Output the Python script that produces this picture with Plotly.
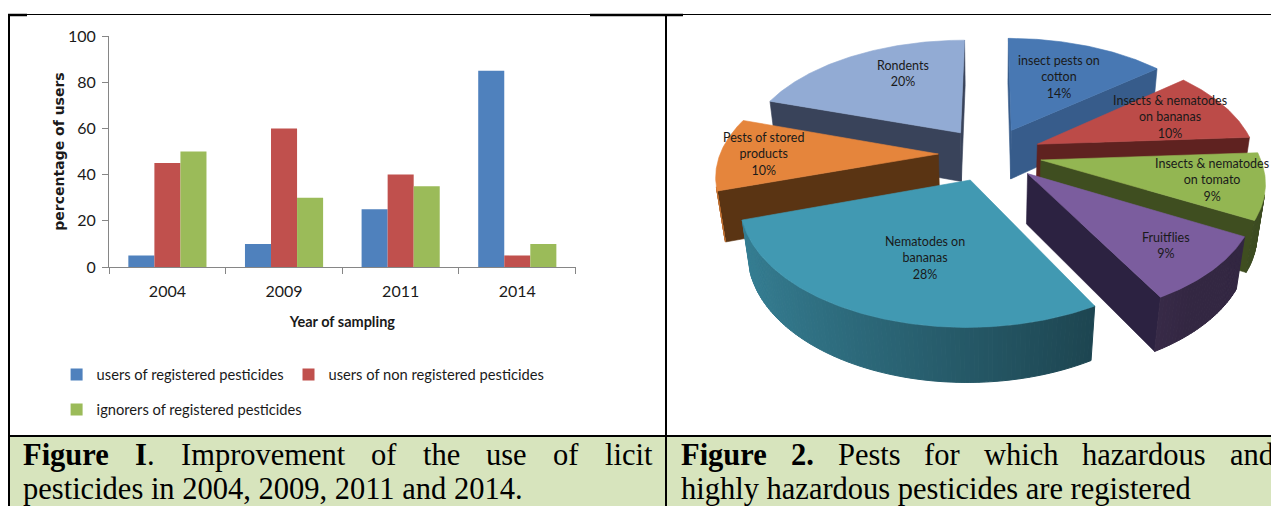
import numpy as np
import plotly.graph_objects as go

# ---------------- data ----------------
years = ["2004", "2009", "2011", "2014"]
registered_users = [5, 10, 25, 85]
non_registered_users = [45, 60, 40, 5]
ignorers_registered = [50, 30, 35, 10]
bar_series = ["users of registered pesticides",
              "users of non registered pesticides",
              "ignorers of registered pesticides"]
y_ticks = [0, 20, 40, 60, 80, 100]

pest_labels = ["insect pests on<br>cotton", "Insects & nematodes<br>on bananas",
               "Insects & nematodes<br>on tomato", "Fruitflies", "Nematodes on<br>bananas",
               "Pests of stored<br>products", "Rondents"]
pest_shares = [14, 10, 9, 9, 28, 10, 20]

caption_left_1 = ["<b>Figure</b>", "<b>I</b>.", "Improvement", "of", "the", "use", "of", "licit"]
caption_left_2 = "pesticides in 2004, 2009, 2011 and 2014."
caption_right_1 = ["<b>Figure</b>", "<b>2.</b>", "Pests", "for", "which", "hazardous", "and"]
caption_right_2 = "highly hazardous pesticides are registered"

# ---------------- page geometry (browser body margin = 8px) ----------------
W, HGT = 1279, 506
OFF = 8
FW, FH = W - OFF, HGT - OFF


def px_x(x):
    return (x - OFF) / FW


def px_y(y):
    return (HGT - y) / FH


# ---------------- styles ----------------
SANS = "Lato, Carlito, Calibri, sans-serif"
SERIF = "Liberation Serif, Times New Roman, serif"
BAR_COLORS = ["#4F81BD", "#C0504D", "#9BBB59"]
TOP_COLORS = ["#4878b3", "#bc4b48", "#93b652", "#7b5d9e", "#4199b2", "#e5853c", "#92abd4"]
SIDE_COLORS = ["#375c8b", "#5f2220", "#3f4e20", "#2c2241", "#1f4e5c", "#5a3413", "#39435a"]
LABEL_R = [0.6, 0.7, 0.77, 0.77, 0.6, 0.8, 0.68]
LABEL_DA = [0, 0, 0, 0, -5, 0, 9]

fig = go.Figure()

# ---------------- bar chart ----------------
for name, vals, col, lg in zip(bar_series,
                               [registered_users, non_registered_users, ignorers_registered],
                               BAR_COLORS, ["legend", "legend", "legend2"]):
    fig.add_trace(go.Bar(x=years, y=vals, name=name, marker=dict(color=col, line=dict(width=0)),
                         legend=lg, xaxis="x", yaxis="y", hoverinfo="skip"))

# ---------------- 3-D exploded pie (perspective projection) ----------------
PHI = np.radians(34)
DIST = 1.0
R = 0.19
H = 0.052
EXPL = 0.045
F = 1115.0
CX, CY_TOP = 990.0, 154.0
cosP, sinP = np.cos(PHI), np.sin(PHI)
CY0 = CY_TOP + F * H * cosP / (DIST - H * sinP)
CAM = np.array([0.0, -DIST * cosP, DIST * sinP])


def proj(X, Y, Z):
    X = np.asarray(X, float); Y = np.asarray(Y, float); Z = np.asarray(Z, float)
    depth = DIST + Y * cosP - Z * sinP
    up = Y * sinP + Z * cosP
    return CX + F * X / depth, CY0 - F * up / depth


def facing(n, p):
    return float(np.dot(n, CAM - p)) > 0


def hex2rgb(h):
    h = h.lstrip("#")
    return np.array([int(h[i:i + 2], 16) for i in (0, 2, 4)], float)


def shade(h, k):
    c = np.clip(hex2rgb(h) * k, 0, 255).astype(int)
    return "rgb(%d,%d,%d)" % tuple(c)


def poly(xs, ys, color, lw=0.6):
    xs = list(xs) + [xs[0]]
    ys = list(ys) + [ys[0]]
    fig.add_trace(go.Scatter(x=xs, y=ys, fill="toself", fillcolor=color, mode="lines",
                             line=dict(color=color, width=lw), hoverinfo="skip",
                             showlegend=False, xaxis="x2", yaxis="y2"))


total = float(sum(pest_shares))
bounds = np.concatenate([[0], np.cumsum(pest_shares)]) / total * 2 * np.pi
slices = []
for i in range(len(pest_shares)):
    a, b = bounds[i], bounds[i + 1]
    m = (a + b) / 2
    slices.append((i, a, b, m, EXPL * np.sin(m), EXPL * np.cos(m)))

pie_annotations = []
for (i, a, b, m, ox, oy) in sorted(slices, key=lambda s: -s[5]):
    # radial faces
    for ang, n in ((a, np.array([-np.cos(a), np.sin(a), 0])), (b, np.array([np.cos(b), -np.sin(b), 0]))):
        p = np.array([ox + 0.5 * R * np.sin(ang), oy + 0.5 * R * np.cos(ang), H / 2])
        if facing(n, p):
            X = [ox, ox + R * np.sin(ang), ox + R * np.sin(ang), ox]
            Y = [oy, oy + R * np.cos(ang), oy + R * np.cos(ang), oy]
            Z = [H, H, 0, 0]
            px, py = proj(X, Y, Z)
            poly(px, py, SIDE_COLORS[i])
    # outer wall, shaded by facing direction (one strip per degree)
    nseg = max(int(np.degrees(b - a)), 2)
    th = np.linspace(a, b, nseg + 1)
    for j in range(nseg):
        t = (th[j] + th[j + 1]) / 2
        n = np.array([np.sin(t), np.cos(t), 0])
        p = np.array([ox + R * np.sin(t), oy + R * np.cos(t), H / 2])
        if not facing(n, p):
            continue
        tt = th[j:j + 2]
        kk = float(np.clip(0.58 + 0.26 * (-np.sin(t)), 0.42, 0.85))
        xt, yt = proj(ox + R * np.sin(tt), oy + R * np.cos(tt), np.full(2, H))
        xb, yb = proj(ox + R * np.sin(tt), oy + R * np.cos(tt), np.zeros(2))
        poly(list(xt) + list(xb[::-1]), list(yt) + list(yb[::-1]), shade(TOP_COLORS[i], kk), lw=1)
    # top face
    tt = np.linspace(a, b, nseg * 2 + 1)
    X = np.concatenate([[ox], ox + R * np.sin(tt)])
    Y = np.concatenate([[oy], oy + R * np.cos(tt)])
    px, py = proj(X, Y, np.full(len(X), H))
    poly(px, py, TOP_COLORS[i])
    # label
    ml = m + np.radians(LABEL_DA[i])
    lx, ly = proj(ox + LABEL_R[i] * R * np.sin(ml), oy + LABEL_R[i] * R * np.cos(ml), H)
    pie_annotations.append(dict(x=float(lx), y=float(ly), xref="x2", yref="y2",
                                text="%s<br>%d%%" % (pest_labels[i], pest_shares[i]),
                                showarrow=False, align="center",
                                font=dict(family=SANS, size=12.5, color="#1a1a1a")))

# ---------------- captions (justified first lines) ----------------
SERIF_REG = {"I": 333, "m": 778, "p": 500, "r": 333, "o": 500, "v": 500, "e": 444, "n": 500,
             "t": 278, "f": 333, "h": 500, "u": 500, "s": 389, "l": 278, "i": 278, "c": 444,
             "P": 556, "w": 722, "a": 444, "z": 444, "d": 500, ".": 250}
SERIF_BOLD = {"F": 611, "i": 278, "g": 500, "u": 556, "r": 444, "e": 444, "I": 389, "2": 500, ".": 250}
CAP_SIZE = 30.5


def word_width(word, size):
    w, bold, i = 0.0, False, 0
    while i < len(word):
        if word.startswith("<b>", i):
            bold, i = True, i + 3
            continue
        if word.startswith("</b>", i):
            bold, i = False, i + 4
            continue
        w += (SERIF_BOLD if bold else SERIF_REG).get(word[i], 500)
        i += 1
    return w * size / 1000.0


def justify(words, xl, xr, size):
    ws = [word_width(w, size) for w in words]
    gap = (xr - xl - sum(ws)) / (len(words) - 1)
    xs, x = [], xl
    for w in ws:
        xs.append(x)
        x += w + gap
    return xs


CAP_Y1, CAP_Y2 = 454.8, 488.8
cap_annotations = []
for words, xl, xr in ((caption_left_1, 22, 651), (caption_right_1, 680, 1272.7)):
    for w, x in zip(words, justify(words, xl, xr, CAP_SIZE)):
        cap_annotations.append(dict(x=x, y=CAP_Y1, xref="x2", yref="y2", text=w, showarrow=False,
                                    xanchor="left", yanchor="middle", borderpad=0,
                                    font=dict(family=SERIF, size=CAP_SIZE, color="#000")))
for txt, xl in ((caption_left_2, 22), (caption_right_2, 680)):
    cap_annotations.append(dict(x=xl, y=CAP_Y2, xref="x2", yref="y2", text=txt, showarrow=False,
                                xanchor="left", yanchor="middle", borderpad=0,
                                font=dict(family=SERIF, size=CAP_SIZE, color="#000")))

# ---------------- frame shapes ----------------
shapes = [
    dict(type="rect", x0=9, x1=W, y0=437, y1=HGT, fillcolor="#d7e4bd", line=dict(width=0), layer="below"),
    dict(type="line", x0=0, x1=W, y0=14.5, y1=14.5, line=dict(color="#000", width=1)),
    dict(type="line", x0=8, x1=27, y0=15, y1=15, line=dict(color="#000", width=2.5)),
    dict(type="line", x0=590, x1=683, y0=15, y1=15, line=dict(color="#000", width=2.5)),
    dict(type="line", x0=9, x1=9, y0=14, y1=HGT, line=dict(color="#000", width=2)),
    dict(type="line", x0=666, x1=666, y0=14, y1=HGT, line=dict(color="#000", width=2)),
    dict(type="line", x0=8, x1=W, y0=436, y1=436, line=dict(color="#000", width=2)),
]
for s in shapes:
    s.update(xref="x2", yref="y2")

AX_COL = "#868686"
TXT_COL = "#1a1a1a"
fig.update_layout(
    width=FW, height=FH, margin=dict(l=0, r=0, t=0, b=0, autoexpand=False),
    paper_bgcolor="white", plot_bgcolor="rgba(0,0,0,0)",
    barmode="group", bargap=0.33, bargroupgap=0,
    xaxis=dict(domain=[px_x(109.1), px_x(575.6)], anchor="y", type="category", automargin=False,
               categoryorder="array", categoryarray=years,
               showline=True, linecolor=AX_COL, linewidth=1, ticks="outside", tickson="boundaries",
               ticklen=6, tickcolor=AX_COL, showgrid=False, zeroline=False,
               tickfont=dict(family=SANS, size=16, color=TXT_COL), ticklabelstandoff=10,
               title=dict(text="Year of sampling", standoff=17,
                          font=dict(family=SANS, size=14.5, color=TXT_COL, weight="bold"))),
    yaxis=dict(domain=[px_y(267), px_y(36)], anchor="x", range=[0, 100], automargin=False,
               tickvals=y_ticks, showline=True, linecolor=AX_COL, linewidth=1, ticks="outside",
               ticklen=6, tickcolor=AX_COL, showgrid=False, zeroline=False,
               tickfont=dict(family=SANS, size=16, color=TXT_COL), ticklabelstandoff=3,
               title=dict(text="percentage of users", standoff=0,
                          font=dict(family="DejaVu Sans", size=14, color=TXT_COL, weight="bold"))),
    xaxis2=dict(domain=[0, 1], range=[OFF, W], visible=False, anchor="y2", fixedrange=True,
                automargin=False),
    yaxis2=dict(domain=[0, 1], range=[HGT, OFF], visible=False, anchor="x2", fixedrange=True,
                automargin=False),
    legend=dict(orientation="h", x=px_x(56.6), xanchor="left", y=px_y(375), yanchor="middle",
                font=dict(family=SANS, size=14.7, color=TXT_COL), bgcolor="rgba(0,0,0,0)",
                borderwidth=0),
    legend2=dict(orientation="h", x=px_x(56.6), xanchor="left", y=px_y(410), yanchor="middle",
                 font=dict(family=SANS, size=14.7, color=TXT_COL), bgcolor="rgba(0,0,0,0)",
                 borderwidth=0),
    shapes=shapes,
    annotations=pie_annotations + cap_annotations,
)

fig.write_html("out.html")
